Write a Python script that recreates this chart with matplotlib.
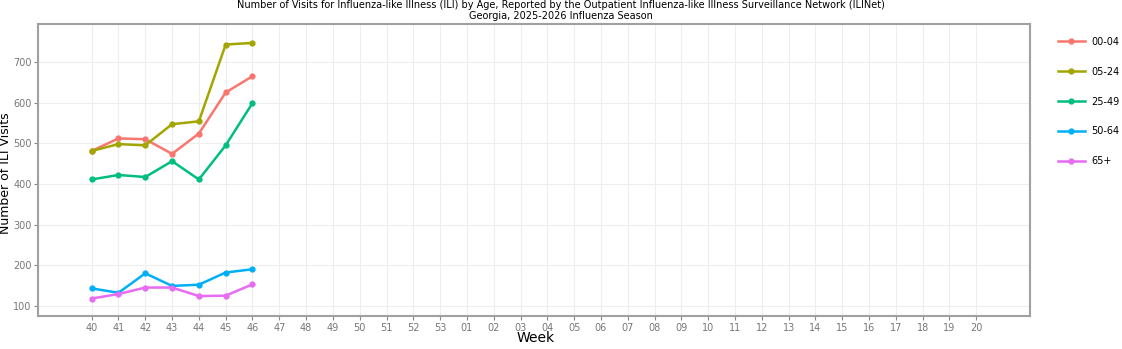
import numpy as np
import matplotlib.pyplot as plt

weeks = [str(w) for w in range(40, 54)] + ['%02d' % w for w in range(1, 21)]
ages = ['00-04', '05-24', '25-49', '50-64', '65+']
colors = ['#F8766D', '#A3A500', '#00BF7D', '#00B0F6', '#E76BF3']

v_00_04 = [481, 512, 510, 474, 524, 625, 665]
v_05_24 = [481, 498, 495, 547, 554, 743, 747]
v_25_49 = [411, 422, 417, 456, 411, 495, 599]
v_50_64 = [143, 132, 180, 149, 152, 182, 190]
v_65 = [118, 129, 145, 145, 124, 125, 153]
series = [v_00_04, v_05_24, v_25_49, v_50_64, v_65]

fig = plt.figure(figsize=(11.22, 3.49), dpi=100)
ax = fig.add_axes([0.0339, 0.0946, 0.884, 0.836])

x = np.arange(len(weeks))
for name, vals, c in zip(ages, series, colors):
    ax.plot(x[:len(vals)], vals, color=c, lw=1.8, marker='o', ms=3.5, label=name)

ax.set_xlim(-2, 35)
ax.set_ylim(75, 793)
ax.set_xticks(x)
ax.set_xticklabels(weeks)
ax.set_yticks([100, 200, 300, 400, 500, 600, 700])
ax.grid(True, color='#eeeeee', lw=0.8)
ax.set_axisbelow(True)
ax.tick_params(axis='both', labelsize=7, colors='#888888', length=3, width=0.8,
               labelcolor='#777777', pad=2)
ax.tick_params(axis='y', pad=1.5)
for s in ax.spines.values():
    s.set_color('#a0a0a0')
    s.set_linewidth(1.5)

fig.text(0.477, 0.012, 'Week', fontsize=10, ha='center', va='bottom')
fig.text(-0.001, 0.505, 'Number of ILI Visits', fontsize=9, rotation=90, ha='left', va='center')
fig.suptitle('Number of Visits for Influenza-like Illness (ILI) by Age, Reported by the Outpatient '
             'Influenza-like Illness Surveillance Network (ILINet)\nGeorgia, 2025-2026 Influenza Season',
             fontsize=7, y=1.0, linespacing=1.1)

fig.legend(loc='upper left', bbox_to_anchor=(0.935, 0.92), frameon=False, fontsize=7,
           labelspacing=2.05, handlelength=2.8, handletextpad=0.6)

fig.savefig('out.png', dpi=100)
